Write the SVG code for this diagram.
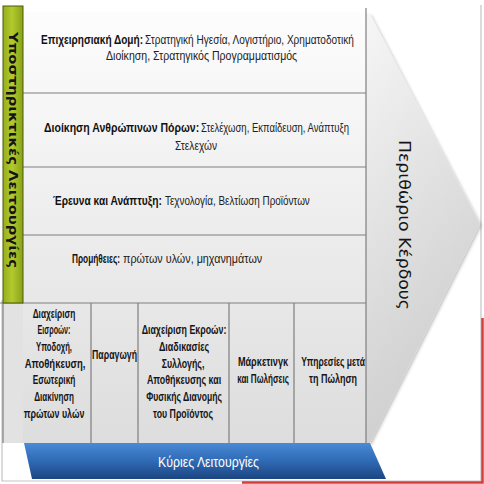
<svg xmlns="http://www.w3.org/2000/svg" width="484" height="484" viewBox="0 0 484 484">
<defs>
<linearGradient id="gridG" x1="0" y1="0" x2="0" y2="1">
<stop offset="0" stop-color="#fdfdfd"/><stop offset="1" stop-color="#dddddd"/>
</linearGradient>
<linearGradient id="chevG" x1="0" y1="0" x2="0.3" y2="1">
<stop offset="0" stop-color="#f6f6f6"/><stop offset="1" stop-color="#cdcdcd"/>
</linearGradient>
<linearGradient id="greenG" x1="0" y1="0" x2="1" y2="0">
<stop offset="0" stop-color="#96ae1c"/><stop offset="0.45" stop-color="#b3ca2e"/><stop offset="1" stop-color="#8aa118"/>
</linearGradient>
<linearGradient id="blueG" x1="0" y1="0" x2="0" y2="1">
<stop offset="0" stop-color="#4a8ad6"/><stop offset="0.5" stop-color="#2f6ab5"/><stop offset="1" stop-color="#1c4580"/>
</linearGradient>
<filter id="sh" x="-10%" y="-10%" width="120%" height="120%">
<feDropShadow dx="1.5" dy="1.5" stdDeviation="1.5" flood-color="#000" flood-opacity="0.25"/>
</filter>
<style>
.ln{stroke:#7e7e7e;stroke-width:1.2;fill:none}
.r{font-family:"Liberation Sans",Arial,sans-serif;font-size:12px;fill:#222}
.b{font-family:"Liberation Sans",Arial,sans-serif;font-size:12px;font-weight:bold;fill:#111}
.c{font-family:"Liberation Sans",Arial,sans-serif;font-size:12px;font-weight:bold;fill:#151515;text-anchor:middle}
.v{font-family:"DejaVu Sans",Verdana,sans-serif;fill:#151515;dominant-baseline:central;text-anchor:middle}
</style>
</defs>
<rect x="0" y="0" width="484" height="484" fill="#ffffff"/>
<g id="frame">
<path d="M2 300 L2 481 L481 481 L481 5" fill="none" stroke="#c4c4c4" stroke-width="1.2"/>
<path d="M482.5 318 L482.5 482.5 L242 482.5" fill="none" stroke="#d63c3c" stroke-width="2.5"/>
</g>
<g id="chevron">
<polygon points="366,14 370,14 480,224 370,443 366,443" fill="url(#chevG)" filter="url(#sh)"/>
<text class="v" font-size="15" transform="translate(404,225) rotate(90)" textLength="170" lengthAdjust="spacingAndGlyphs">Περιθώριο Κέρδους</text>
</g>
<rect x="23" y="12" width="343" height="431" fill="url(#gridG)"/>
<rect x="3" y="303" width="20" height="140" fill="#e2e2e2"/>
<g id="connectors">
<line class="ln" x1="366" y1="8" x2="366" y2="443"/>
<line class="ln" x1="23" y1="93" x2="366" y2="93"/>
<line class="ln" x1="23" y1="167" x2="366" y2="167"/>
<line class="ln" x1="23" y1="235" x2="366" y2="235"/>
<line class="ln" x1="0" y1="303" x2="366" y2="303"/>
<line class="ln" x1="3" y1="303" x2="3" y2="443"/>
<line class="ln" x1="91" y1="303" x2="91" y2="443"/>
<line class="ln" x1="138" y1="303" x2="138" y2="443"/>
<line class="ln" x1="229" y1="303" x2="229" y2="443"/>
<line class="ln" x1="294" y1="303" x2="294" y2="443"/>
</g>
<g id="support">
<rect x="3" y="6" width="20" height="297" fill="url(#greenG)" stroke="#4a5a0e" stroke-width="1"/>
<text class="v" font-size="12" font-weight="bold" transform="translate(12.5,150) rotate(90)" textLength="236" lengthAdjust="spacingAndGlyphs">Υποστηρικτικές Λειτουργίες</text>
</g>
<g id="row1">
<text class="b" transform="translate(41,44) scale(0.8,1)" textLength="127.5" lengthAdjust="spacingAndGlyphs">Επιχειρησιακή Δομή:</text>
<text class="r" transform="translate(145,44) scale(0.8,1)" textLength="261" lengthAdjust="spacingAndGlyphs">Στρατηγική Ηγεσία, Λογιστήριο, Χρηματοδοτική</text>
<text class="r" transform="translate(106,60) scale(0.8,1)" textLength="239" lengthAdjust="spacingAndGlyphs">Διοίκηση, Στρατηγικός Προγραμματισμός</text>
</g>
<g id="row2">
<text class="b" transform="translate(44,132) scale(0.8,1)" textLength="194" lengthAdjust="spacingAndGlyphs">Διοίκηση Ανθρώπινων Πόρων:</text>
<text class="r" transform="translate(201,132) scale(0.8,1)" textLength="185" lengthAdjust="spacingAndGlyphs">Στελέχωση, Εκπαίδευση, Ανάπτυξη</text>
<text class="r" transform="translate(175,150) scale(0.8,1)" textLength="52.5" lengthAdjust="spacingAndGlyphs">Στελεχών</text>
</g>
<g id="row3">
<text class="b" transform="translate(53,205) scale(0.8,1)" textLength="136" lengthAdjust="spacingAndGlyphs">Έρευνα και Ανάπτυξη:</text>
<text class="r" transform="translate(165,205) scale(0.8,1)" textLength="181" lengthAdjust="spacingAndGlyphs">Τεχνολογία, Βελτίωση Προϊόντων</text>
</g>
<g id="row4">
<text class="b" transform="translate(72,263) scale(0.8,1)" textLength="60" lengthAdjust="spacingAndGlyphs">Προμήθειες:</text>
<text class="r" transform="translate(123,263) scale(0.8,1)" textLength="174" lengthAdjust="spacingAndGlyphs">πρώτων υλών, μηχανημάτων</text>
</g>
<g id="inbound">
<text class="c" transform="translate(54,318) scale(0.75,1)" textLength="57" lengthAdjust="spacingAndGlyphs">Διαχείριση</text>
<text class="c" transform="translate(54,334) scale(0.75,1)" textLength="44" lengthAdjust="spacingAndGlyphs">Εισροών:</text>
<text class="c" transform="translate(54,351) scale(0.75,1)" textLength="48" lengthAdjust="spacingAndGlyphs">Υποδοχή,</text>
<text class="c" transform="translate(55,368) scale(0.75,1)" textLength="81" lengthAdjust="spacingAndGlyphs">Αποθήκευση,</text>
<text class="c" transform="translate(54,384) scale(0.75,1)" textLength="57" lengthAdjust="spacingAndGlyphs">Εσωτερική</text>
<text class="c" transform="translate(54,401) scale(0.75,1)" textLength="53" lengthAdjust="spacingAndGlyphs">Διακίνηση</text>
<text class="c" transform="translate(54,418) scale(0.75,1)" textLength="81" lengthAdjust="spacingAndGlyphs">πρώτων υλών</text>
</g>
<g id="production">
<text class="c" transform="translate(114.5,359) scale(0.75,1)" textLength="60" lengthAdjust="spacingAndGlyphs">Παραγωγή</text>
</g>
<g id="outbound">
<text class="c" transform="translate(184,334) scale(0.75,1)" textLength="113" lengthAdjust="spacingAndGlyphs">Διαχείριση Εκροών:</text>
<text class="c" transform="translate(184,351) scale(0.75,1)" textLength="67" lengthAdjust="spacingAndGlyphs">Διαδικασίες</text>
<text class="c" transform="translate(183,368) scale(0.75,1)" textLength="57" lengthAdjust="spacingAndGlyphs">Συλλογής,</text>
<text class="c" transform="translate(184,384) scale(0.75,1)" textLength="99" lengthAdjust="spacingAndGlyphs">Αποθήκευσης και</text>
<text class="c" transform="translate(184,401) scale(0.75,1)" textLength="101" lengthAdjust="spacingAndGlyphs">Φυσικής Διανομής</text>
<text class="c" transform="translate(183,418) scale(0.75,1)" textLength="80" lengthAdjust="spacingAndGlyphs">του Προϊόντος</text>
</g>
<g id="marketing">
<text class="c" transform="translate(263,366) scale(0.75,1)" textLength="67" lengthAdjust="spacingAndGlyphs">Μάρκετινγκ</text>
<text class="c" transform="translate(263,383) scale(0.75,1)" textLength="69" lengthAdjust="spacingAndGlyphs">και Πωλήσεις</text>
</g>
<g id="service">
<text class="c" transform="translate(333,366) scale(0.75,1)" textLength="85" lengthAdjust="spacingAndGlyphs">Υπηρεσίες μετά</text>
<text class="c" transform="translate(333,383) scale(0.75,1)" textLength="64" lengthAdjust="spacingAndGlyphs">τη Πώληση</text>
</g>
<g id="primary">
<polygon points="24,443 370,443 386,479 32,479" fill="url(#blueG)"/>
<text x="158" y="467" font-family="'Liberation Sans',Arial,sans-serif" font-size="14" fill="#ffffff" textLength="101" lengthAdjust="spacingAndGlyphs">Κύριες Λειτουργίες</text>
</g>
</svg>
